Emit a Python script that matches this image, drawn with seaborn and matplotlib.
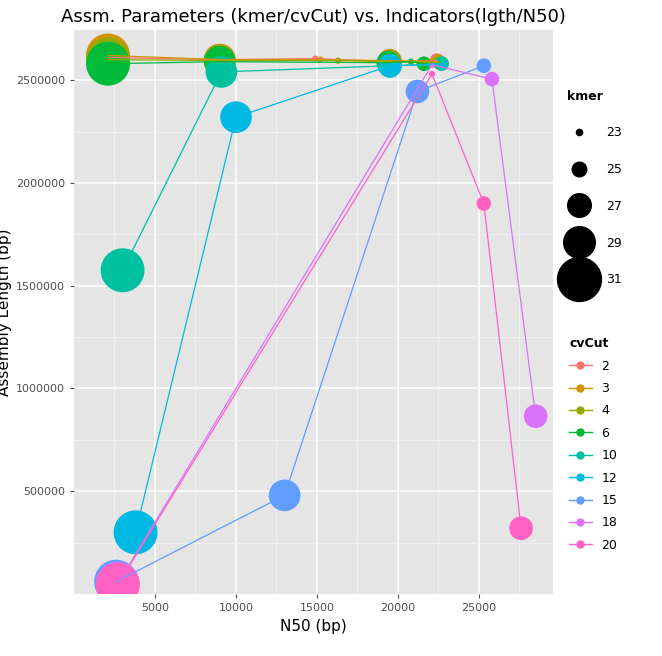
import numpy as np
import pandas as pd
import seaborn as sns
import matplotlib
matplotlib.use('Agg')
import matplotlib.pyplot as plt
from matplotlib.lines import Line2D

cvcuts = [2, 3, 4, 6, 10, 12, 15, 18, 20]
palette = ['#F8766D', '#D39200', '#93AA00', '#00BA38', '#00C19F',
           '#00B9E3', '#619CFF', '#DB72FB', '#FF61C3']
kmers = [23, 25, 27, 29, 31]

# (cvCut, kmer, N50, length)
cv_col = [2, 2, 2, 2, 2,
          3, 3, 3, 3, 3,
          4, 4, 4, 4, 4,
          6, 6, 6, 6, 6,
          10, 10, 10, 10,
          12, 12, 12, 12,
          15, 15, 15, 15,
          18, 18, 18, 18,
          20, 20, 20, 20]
kmer_col = [23, 25, 27, 29, 31,
            23, 25, 27, 29, 31,
            23, 25, 27, 29, 31,
            23, 25, 27, 29, 31,
            25, 27, 29, 31,
            23, 27, 29, 31,
            25, 27, 29, 31,
            23, 25, 27, 31,
            23, 25, 27, 31]
n50_col = [14900, 22400, 19500, 9000, 2100,
           15200, 22500, 19500, 9000, 2100,
           16300, 22600, 19500, 9000, 2100,
           20800, 21600, 19400, 9000, 2100,
           22700, 19500, 9100, 3000,
           22800, 19500, 10000, 3800,
           25300, 21200, 13000, 2600,
           22100, 25800, 28500, 2700,
           22100, 25300, 27600, 2700]
len_col = [2605000, 2595000, 2590000, 2600000, 2610000,
           2600000, 2590000, 2595000, 2600000, 2620000,
           2595000, 2585000, 2590000, 2595000, 2600000,
           2590000, 2580000, 2585000, 2590000, 2580000,
           2580000, 2570000, 2540000, 1575000,
           2575000, 2570000, 2320000, 300000,
           2570000, 2445000, 480000, 60000,
           2575000, 2505000, 865000, 50000,
           2530000, 1900000, 320000, 45000]

df = pd.DataFrame({'cvCut': cv_col, 'kmer': kmer_col, 'N50': n50_col, 'length': len_col})
size_map = dict(zip(kmers, [20, 110, 290, 520, 1000]))
color_map = dict(zip(cvcuts, palette))

fig = plt.figure(figsize=(6.62, 6.56), dpi=100)
ax = fig.add_axes([74 / 662, 62 / 656, 479 / 662, 564 / 656])
ax.set_facecolor('#E5E5E5')
ax.set_axisbelow(True)
ax.set_xticks([2500, 7500, 12500, 17500, 22500, 27500], minor=True)
ax.set_yticks([250000, 750000, 1250000, 1750000, 2250000], minor=True)
ax.grid(which='major', color='white', lw=1.1)
ax.grid(which='minor', color='#F2F2F2', lw=0.6)
ax.tick_params(which='minor', length=0)
for s in ax.spines.values():
    s.set_visible(False)

sns.lineplot(data=df, x='N50', y='length', hue='cvCut', palette=color_map,
             sort=True, estimator=None, lw=0.9, legend=False, ax=ax)
sns.scatterplot(data=df, x='N50', y='length', hue='cvCut', size='kmer',
                palette=color_map, sizes=size_map, linewidth=0, alpha=1,
                legend=False, ax=ax)

ax.set_xlim(0, 29570)
ax.set_ylim(0, 2744000)
ax.set_xticks([5000, 10000, 15000, 20000, 25000])
ax.set_yticks([500000, 1000000, 1500000, 2000000, 2500000])
ax.set_xticklabels(['5000', '10000', '15000', '20000', '25000'])
ax.set_yticklabels(['500000', '1000000', '1500000', '2000000', '2500000'])
ax.tick_params(which='major', colors='#4D4D4D', labelsize=8, length=3)
ax.set_xlabel('N50 (bp)', fontsize=11)
ax.set_ylabel('Assembly Length (bp)', fontsize=11, labelpad=3)
ax.set_title('Assm. Parameters (kmer/cvCut) vs. Indicators(lgth/N50)', fontsize=13)

kh = [Line2D([], [], ls='', marker='o', color='black', markersize=np.sqrt(size_map[k])) for k in kmers]
leg1 = ax.legend(kh, [str(k) for k in kmers], title='kmer', loc='upper left',
                 bbox_to_anchor=(1.01, 0.91), frameon=False, labelspacing=1.9,
                 handletextpad=1.2, borderpad=0.2, fontsize=9,
                 title_fontproperties={'weight': 'bold', 'size': 9}, alignment='left')
ax.add_artist(leg1)
ch = [Line2D([], [], marker='o', color=c, lw=1, markersize=5) for c in palette]
ax.legend(ch, [str(c) for c in cvcuts], title='cvCut', loc='upper left',
          bbox_to_anchor=(1.01, 0.475), frameon=False, labelspacing=0.75,
          fontsize=9, title_fontproperties={'weight': 'bold', 'size': 9},
          alignment='left', handlelength=1.8)

fig.savefig('out.png', dpi=100)
